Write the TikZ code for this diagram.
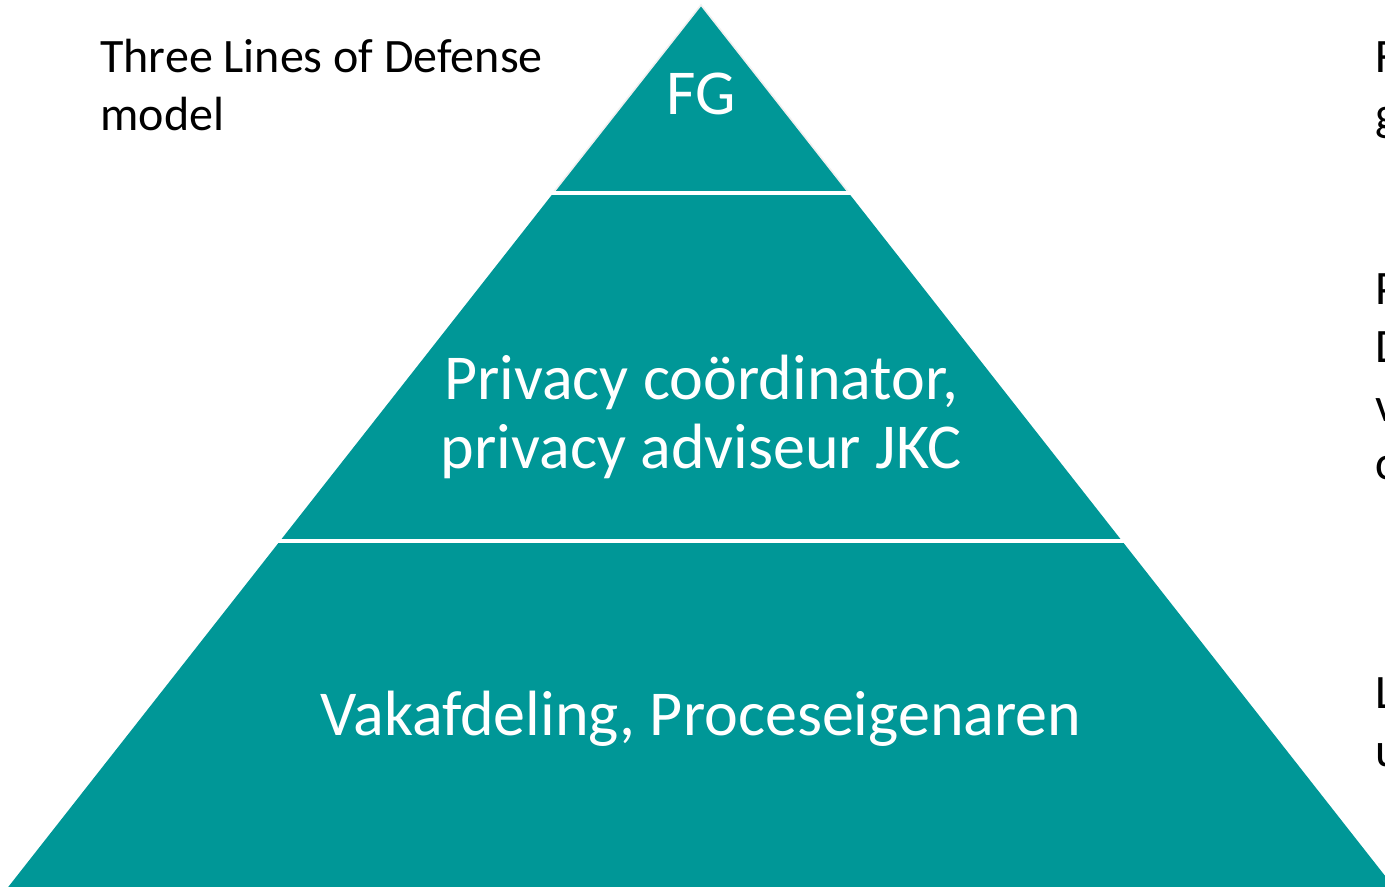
\documentclass[tikz,border=0pt]{standalone}
\usepackage{fontspec}
\setmainfont{Carlito}
\definecolor{pyr}{RGB}{0,151,151}
\begin{document}
\begin{tikzpicture}[x=0.5pt,y=-0.5pt,
  big/.style={text=white,font=\fontsize{32}{38}\selectfont,inner sep=0pt},
  side/.style={text=black,font=\fontsize{24}{29}\selectfont,inner sep=0pt,anchor=base west},
  sep/.style={draw=white,line width=2pt}]
\useasboundingbox (0,0) rectangle (1385,887);
\clip (0,0) rectangle (1385,887);
\coordinate (apex) at (701,5);
\coordinate (bl) at (-2,900);
\coordinate (br) at (1404,900);
\coordinate (l1) at (553,193);
\coordinate (r1) at (849,193);
\coordinate (l2) at (280,541);
\coordinate (r2) at (1122,541);
\fill[pyr] (apex) -- (bl) -- (br) -- cycle;
\draw[draw=black!6,line width=0.8pt,line join=miter] (l1) -- (apex) -- (r1);
\draw[sep] ([xshift=-10]l1) -- ([xshift=10]r1);
\draw[sep] ([xshift=-10]l2) -- ([xshift=10]r2);
\node[big,anchor=base] (fg) at (701,115) {FG};
\node[big,anchor=base] (m1) at (701,399) {Privacy coördinator,};
\node[big,anchor=base] (m2) at (701,468) {privacy adviseur JKC};
\node[big,anchor=base] (b1) at (701,735) {Vakafdeling, Proceseigenaren};
\node[side] (t1) at (100,73) {Three Lines of Defense};
\node[side] (t2) at (100,131) {model};
\node[side] (ra) at (1375,73) {F};
\node[side] (rb) at (1375,131) {g};
\node[side] (rc) at (1375,305) {P};
\node[side] (rd) at (1375,363) {D};
\node[side] (re) at (1375,421) {v};
\node[side] (rf) at (1375,479) {c};
\node[side] (rg) at (1375,708) {L};
\node[side] (rh) at (1375,766) {u};
\end{tikzpicture}
\end{document}
